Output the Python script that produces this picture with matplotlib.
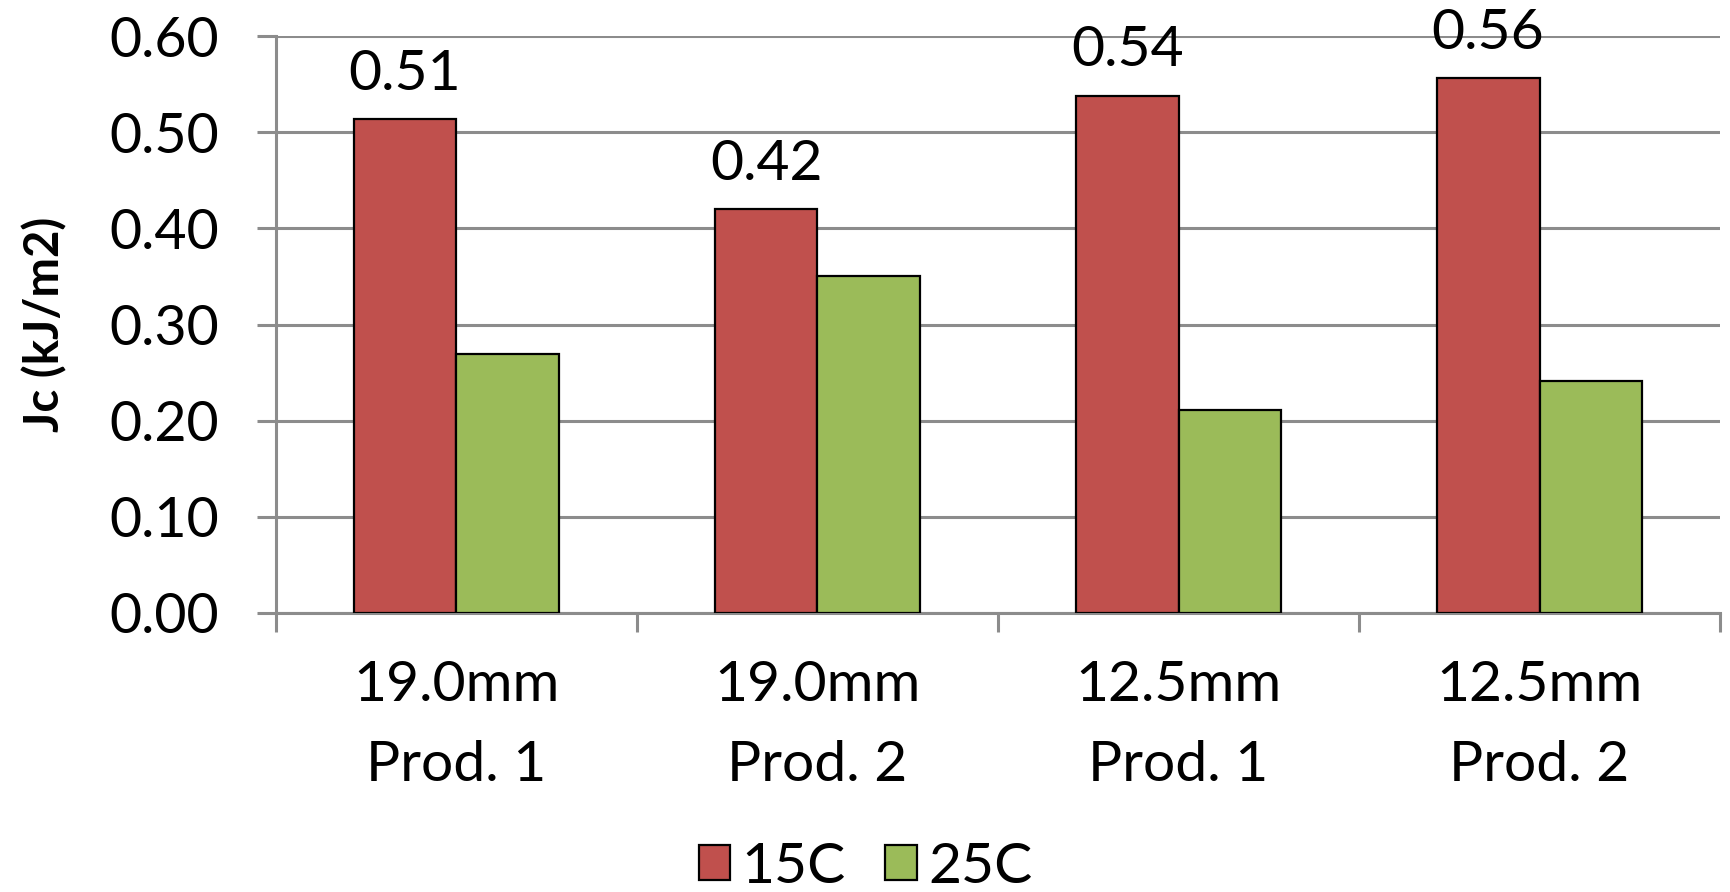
import numpy as np
import matplotlib
matplotlib.use("Agg")
import matplotlib.pyplot as plt
from matplotlib.patches import Patch

plt.rcParams['font.family'] = ['Lato', 'DejaVu Sans']

categories = ["19.0mm\nProd. 1", "19.0mm\nProd. 2", "12.5mm\nProd. 1", "12.5mm\nProd. 2"]
jc_15c = [0.514, 0.420, 0.538, 0.556]
jc_25c = [0.269, 0.350, 0.211, 0.241]
series_names = ["15C", "25C"]
yticks = [0.0, 0.1, 0.2, 0.3, 0.4, 0.5, 0.6]

red = "#C0504D"
green = "#9BBB59"
grid_gray = "#8C8C8C"
fs = 41

fig = plt.figure(figsize=(17.31, 8.92), dpi=100)
ax = fig.add_axes([0.1594, 0.3128, 0.8343, 0.6468])

x = np.arange(len(categories))
bw = 0.285
ax.bar(x - bw / 2, jc_15c, bw, color=red, edgecolor="black", linewidth=1.6, zorder=3)
ax.bar(x + bw / 2, jc_25c, bw, color=green, edgecolor="black", linewidth=1.6, zorder=3)

# value labels only on the 15C series
for xi, v in zip(x, jc_15c):
    ax.text(xi - bw / 2, v + 0.02, f"{v:.2f}", ha="center", va="bottom", fontsize=fs)

ax.set_xlim(-0.5, len(categories) - 0.5)
ax.set_ylim(0, 0.6)
ax.set_yticks(yticks)
ax.set_yticklabels([f"{t:.2f}" for t in yticks], fontsize=fs - 1)
ax.yaxis.grid(True, color=grid_gray, linewidth=2.2, zorder=0)
ax.set_axisbelow(True)

ax.set_xticks(x)
ax.set_xticklabels(categories, fontsize=fs, linespacing=1.7)
ax.tick_params(axis="x", length=0, pad=34)
ax.set_xticks(np.arange(-0.5, len(categories)), minor=True)
ax.tick_params(axis="x", which="minor", length=14, width=2.2, color=grid_gray)
ax.tick_params(axis="y", length=14, width=2.2, color=grid_gray, pad=27)

for s in ["top", "right"]:
    ax.spines[s].set_visible(False)
for s in ["left", "bottom"]:
    ax.spines[s].set_color(grid_gray)
    ax.spines[s].set_linewidth(2.2)

ax.set_ylabel("Jc (kJ/m2)", fontsize=34, fontweight="bold", labelpad=30)

handles = [Patch(facecolor=red, edgecolor="black", linewidth=1.6),
           Patch(facecolor=green, edgecolor="black", linewidth=1.6)]
fig.legend(handles, series_names, loc="center", bbox_to_anchor=(0.5, 0.028),
           ncol=2, frameon=False, fontsize=fs, handlelength=0.55, handleheight=0.55,
           handletextpad=0.2, columnspacing=0.7)

fig.savefig("out.png", dpi=100)
